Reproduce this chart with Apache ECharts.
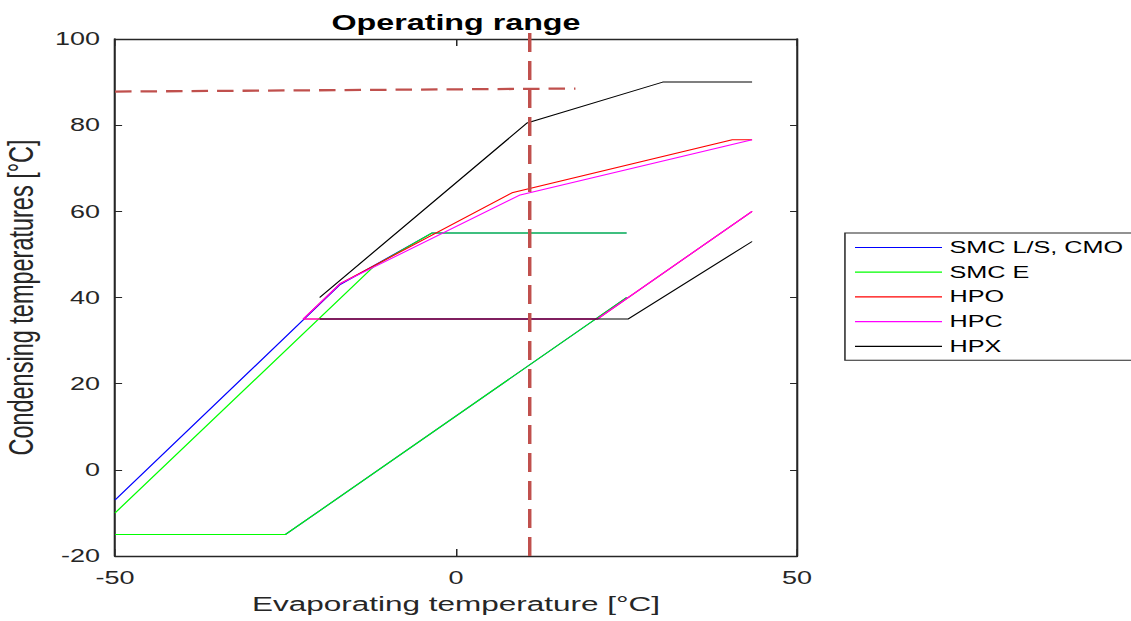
<!DOCTYPE html>
<html>
<head>
<meta charset="utf-8">
<title>Operating range</title>
<script src="https://cdn.jsdelivr.net/npm/echarts@6/dist/echarts.min.js"></script>
<style>
  html, body { margin: 0; padding: 0; background: #fff; overflow: hidden; }
  /* drawn narrow, then widened so the lettering keeps its wide look */
  #chart { width: 754px; height: 621px; transform: scaleX(1.5); transform-origin: 0 0; }
</style>
</head>
<body>
<div id="chart"></div>
<script>
// Axis ranges and ticks
const xTicks = { min: -50, max: 50, step: 50 };
const yTicks = { min: -20, max: 100, step: 20 };

// Break marker between separate pieces of one envelope
const GAP = ['-', '-'];

// Operating envelopes: [evaporating °C, condensing °C]
const smcLS = [[-50, -7], [-17, 43], [-3.5, 55], [25, 55], GAP,
               [-50, -15], [-25, -15], [25, 40]];
const smcE  = [[-50, -10], [-12, 47.3], [-3.5, 55], [25, 55], GAP,
               [-50, -15], [-25, -15], [25, 40]];
const hpo   = [[43.4, 60], [20.7, 35], [-22.4, 35], [-17, 43.2], [8.2, 64.3], [40.5, 76.6], [43.4, 76.6]];
const hpc   = [[43.4, 60], [20.7, 35], [-22.4, 35], [-17, 43.2], [9.4, 63.8], [43.4, 76.6]];
const hpx   = [[43.4, 53], [25.2, 35], [-20, 35], GAP,
               [-20, 40], [10.4, 80.5], [30.3, 90], [43.4, 90]];

// Operating point guides
const guideV = [[10.8, -20], [10.8, 101.5]];
const guideH = [[-50, 87.8], [17.5, 88.5]];

const seriesNames  = ['SMC L/S, CMO', 'SMC E', 'HPO', 'HPC', 'HPX'];
const seriesData   = [smcLS, smcE, hpo, hpc, hpx];
const seriesColors = ['#0000ff', '#00ff00', '#ff0000', '#ff00ff', '#000000'];

const FONT = '"Liberation Sans", Arial, Helvetica, sans-serif';
const AXIS_COLOR = '#262626';

const chart = echarts.init(document.getElementById('chart'), null, { renderer: 'svg' });

const envelopeSeries = seriesNames.map((name, i) => ({
  name: name,
  type: 'line',
  data: seriesData[i],
  symbol: 'none',
  connectNulls: false,
  lineStyle: { color: seriesColors[i], width: 1 },
  itemStyle: { color: seriesColors[i] },
  emphasis: { disabled: true },
  z: 3 + i
}));

// Legend rows: a thin bar in each series colour
const legendItems = seriesNames.map((name, i) => ({
  name: name,
  icon: 'rect',
  itemStyle: { color: seriesColors[i], borderWidth: 0, opacity: 1 }
}));

const guideStyle = { color: '#c0504d', width: 2.3 };

chart.setOption({
  animation: false,
  backgroundColor: '#ffffff',
  title: {
    text: 'Operating range',
    left: 299,
    top: 7,
    textAlign: 'center',
    textStyle: { fontFamily: FONT, fontSize: 21.5, fontWeight: 'bold', color: '#000' }
  },
  legend: {
    data: legendItems,
    orient: 'vertical',
    left: 563.3,
    top: 233,
    padding: [5.5, 24, 5, 6.7],
    itemWidth: 58,
    itemHeight: 1.2,
    itemGap: 6.7,
    borderColor: AXIS_COLOR,
    borderWidth: 1,
    backgroundColor: '#fff',
    textStyle: { fontFamily: FONT, fontSize: 16.8, lineHeight: 18, color: '#000' }
  },
  grid: {
    left: 76.7,
    top: 39,
    width: 454.7,
    height: 517,
    outerBoundsMode: 'none',
    containLabel: false
  },
  xAxis: [
    {
      type: 'value',
      min: xTicks.min, max: xTicks.max, interval: xTicks.step,
      position: 'bottom',
      name: 'Evaporating temperature [°C]',
      nameLocation: 'middle',
      nameGap: 37,
      nameTextStyle: { fontFamily: FONT, fontSize: 21, color: AXIS_COLOR },
      axisLine: { show: true, onZero: false, lineStyle: { color: AXIS_COLOR, width: 1.4 } },
      axisTick: { show: true, inside: true, length: 7, lineStyle: { color: AXIS_COLOR, width: 1 } },
      axisLabel: { fontFamily: FONT, fontSize: 18, color: AXIS_COLOR, margin: 13 },
      splitLine: { show: false }
    },
    {
      type: 'value',
      min: xTicks.min, max: xTicks.max, interval: xTicks.step,
      position: 'top',
      axisLine: { show: true, onZero: false, lineStyle: { color: AXIS_COLOR, width: 1.4 } },
      axisTick: { show: true, inside: true, length: 7, lineStyle: { color: AXIS_COLOR, width: 1 } },
      axisLabel: { show: false },
      splitLine: { show: false }
    }
  ],
  yAxis: [
    {
      type: 'value',
      min: yTicks.min, max: yTicks.max, interval: yTicks.step,
      position: 'left',
      name: 'Condensing temperatures [°C]',
      nameLocation: 'middle',
      nameGap: 50,
      nameTextStyle: { fontFamily: FONT, fontSize: 23.5, color: AXIS_COLOR },
      axisLine: { show: true, onZero: false, lineStyle: { color: AXIS_COLOR, width: 1.4 } },
      axisTick: { show: true, inside: true, length: 4.7, lineStyle: { color: AXIS_COLOR, width: 1 } },
      axisLabel: { fontFamily: FONT, fontSize: 18, color: AXIS_COLOR, margin: 10 },
      splitLine: { show: false }
    },
    {
      type: 'value',
      min: yTicks.min, max: yTicks.max, interval: yTicks.step,
      position: 'right',
      axisLine: { show: true, onZero: false, lineStyle: { color: AXIS_COLOR, width: 1.4 } },
      axisTick: { show: true, inside: true, length: 4.7, lineStyle: { color: AXIS_COLOR, width: 1 } },
      axisLabel: { show: false },
      splitLine: { show: false }
    }
  ],
  series: envelopeSeries.concat([
    {
      name: 'guide-h',
      type: 'line',
      data: guideH,
      symbol: 'none',
      clip: false,
      lineStyle: Object.assign({ type: [11, 6] }, guideStyle),
      emphasis: { disabled: true },
      z: 10
    },
    {
      name: 'guide-v',
      type: 'line',
      data: guideV,
      symbol: 'none',
      clip: false,
      lineStyle: Object.assign({ type: [19, 9] }, guideStyle),
      emphasis: { disabled: true },
      z: 10
    }
  ])
});
</script>
</body>
</html>
